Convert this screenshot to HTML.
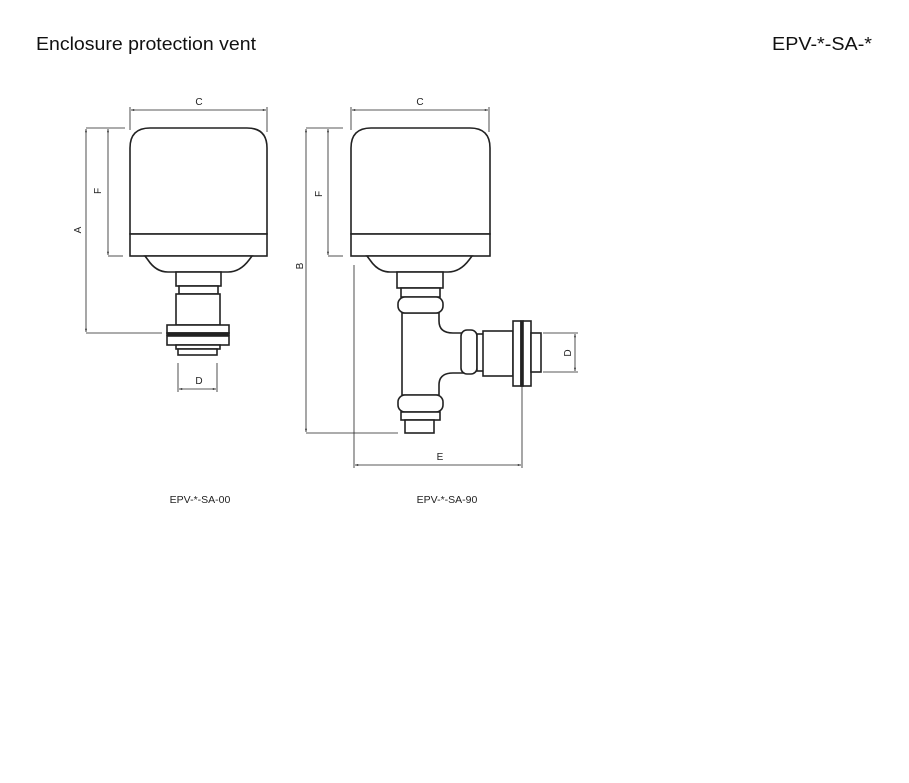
<!DOCTYPE html>
<html><head><meta charset="utf-8"><style>
html,body{margin:0;padding:0;background:#fff;width:909px;height:783px;overflow:hidden}
svg{display:block}
</style></head><body>
<svg width="909" height="783" viewBox="0 0 909 783" xmlns="http://www.w3.org/2000/svg" font-family="Liberation Sans, sans-serif">
<defs>
<marker id="ar" viewBox="0 0 10 10" refX="10" refY="5" markerWidth="6" markerHeight="4" orient="auto-start-reverse"><path d="M0,2 L10,5 L0,8z" fill="#222"/></marker>
</defs>
<text x="36" y="50" font-size="18" fill="#111" textLength="220" lengthAdjust="spacingAndGlyphs">Enclosure protection vent</text>
<text x="772" y="50" font-size="18" fill="#111" textLength="100" lengthAdjust="spacingAndGlyphs">EPV-*-SA-*</text>

<g stroke="#222" fill="none" stroke-width="0.8">
<!-- LEFT dims -->
<line x1="130" y1="107" x2="130" y2="130"/><line x1="267" y1="107" x2="267" y2="132"/>
<line x1="131" y1="110" x2="266" y2="110" marker-start="url(#ar)" marker-end="url(#ar)"/>
<line x1="86" y1="128" x2="125" y2="128"/><line x1="86" y1="333" x2="162" y2="333"/>
<line x1="86" y1="129" x2="86" y2="332" marker-start="url(#ar)" marker-end="url(#ar)"/>
<line x1="108" y1="256" x2="123" y2="256"/>
<line x1="108" y1="129" x2="108" y2="255" marker-start="url(#ar)" marker-end="url(#ar)"/>
<line x1="178" y1="363" x2="178" y2="392"/><line x1="217" y1="363" x2="217" y2="392"/>
<line x1="179" y1="389" x2="216" y2="389" marker-start="url(#ar)" marker-end="url(#ar)"/>
<!-- RIGHT dims -->
<line x1="351" y1="107" x2="351" y2="130"/><line x1="489" y1="107" x2="489" y2="132"/>
<line x1="352" y1="110" x2="488" y2="110" marker-start="url(#ar)" marker-end="url(#ar)"/>
<line x1="306" y1="128" x2="343" y2="128"/><line x1="306" y1="433" x2="398" y2="433"/>
<line x1="306" y1="129" x2="306" y2="432" marker-start="url(#ar)" marker-end="url(#ar)"/>
<line x1="328" y1="256" x2="343" y2="256"/>
<line x1="328" y1="129" x2="328" y2="255" marker-start="url(#ar)" marker-end="url(#ar)"/>
<line x1="354" y1="265" x2="354" y2="468"/><line x1="522" y1="386" x2="522" y2="468"/>
<line x1="355" y1="465" x2="521" y2="465" marker-start="url(#ar)" marker-end="url(#ar)"/>
<line x1="543" y1="333" x2="578" y2="333"/><line x1="543" y1="372" x2="578" y2="372"/>
<line x1="575" y1="334" x2="575" y2="371" marker-start="url(#ar)" marker-end="url(#ar)"/>
</g>

<g font-size="10" fill="#222" text-anchor="middle">
<text x="199" y="105">C</text><text x="420" y="105">C</text>
<text x="199" y="384">D</text><text x="440" y="460">E</text>
<text transform="translate(81,230) rotate(-90)">A</text>
<text transform="translate(101,191) rotate(-90)">F</text>
<text transform="translate(303,266) rotate(-90)">B</text>
<text transform="translate(322,194) rotate(-90)">F</text>
<text transform="translate(571,353) rotate(-90)">D</text>
<text x="200" y="503" font-size="10.5">EPV-*-SA-00</text>
<text x="447" y="503" font-size="10.5">EPV-*-SA-90</text>
</g>

<g stroke="#222" fill="#fff" stroke-width="1.6">
<!-- LEFT part -->
<path d="M130,234 V148 Q130,128 150,128 H247 Q267,128 267,148 V234 Z"/>
<rect x="130" y="234" width="137" height="22"/>
<path d="M145,256 H252 L249,260 Q240,272 228,272 H168 Q156,272 148,260 Z"/>
<rect x="176" y="272" width="45" height="14"/>
<rect x="179" y="286" width="39" height="8"/>
<rect x="176" y="294" width="44" height="31"/>
<rect x="167" y="325" width="62" height="8"/>
<rect x="167" y="333" width="62" height="2" fill="#222"/>
<rect x="167" y="336" width="62" height="9"/>
<rect x="176" y="345" width="44" height="4"/>
<rect x="178" y="349" width="39" height="6"/>
<!-- RIGHT part -->
<path d="M351,234 V148 Q351,128 371,128 H470 Q490,128 490,148 V234 Z"/>
<rect x="351" y="234" width="139" height="22"/>
<path d="M367,256 H472 L469,260 Q460,272 448,272 H390 Q378,272 370,260 Z"/>
<rect x="397" y="272" width="46" height="16"/>
<rect x="401" y="288" width="39" height="9"/>
<path d="M402,313 V395 H439 V385 Q439,373 453,373 H463 V333 H453 Q439,333 439,321 V313 Z"/>
<rect x="398" y="297" width="45" height="16" rx="7"/>
<rect x="398" y="395" width="45" height="17" rx="7"/>
<rect x="401" y="412" width="39" height="8"/>
<rect x="405" y="420" width="29" height="13"/>
<rect x="461" y="330" width="16" height="44" rx="6"/>
<rect x="477" y="334" width="7" height="37"/>
<rect x="483" y="331" width="30" height="45"/>
<rect x="513" y="321" width="8" height="65"/>
<rect x="521" y="321" width="2" height="65" fill="#222"/>
<rect x="523" y="321" width="8" height="65"/>
<rect x="531" y="333" width="10" height="39"/>
</g>
</svg>
</body></html>
